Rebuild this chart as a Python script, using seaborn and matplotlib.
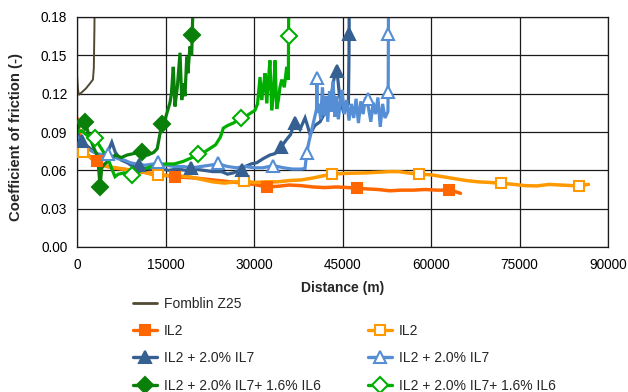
import matplotlib
matplotlib.use("Agg")
import matplotlib.pyplot as plt
from matplotlib.lines import Line2D
import seaborn as sns

# ---------------- data ----------------
fom_x = [0, 150, 300, 800, 1500, 2200, 2700, 2850, 2950, 3000]
fom_y = [0.135, 0.124, 0.119, 0.121, 0.124, 0.128, 0.131, 0.140, 0.170, 0.200]

il2a_x = [0, 300, 800, 1500, 2500, 3300, 4500, 6000, 7500, 9000, 10500, 12000, 13500, 15000,
          16600, 18000, 20000, 22000, 24000, 26000, 28000, 30000, 32150, 34000, 36000, 38000,
          40000, 42000, 44000, 46000, 47400, 49000, 51000, 53000, 55000, 57000, 59000, 61000,
          63000, 64000, 65000]
il2a_y = [0.101, 0.092, 0.082, 0.074, 0.069, 0.067, 0.064, 0.062, 0.061, 0.060, 0.059, 0.058,
          0.057, 0.056, 0.055, 0.0545, 0.054, 0.053, 0.052, 0.051, 0.050, 0.049, 0.047, 0.0475,
          0.0485, 0.048, 0.047, 0.0465, 0.047, 0.0465, 0.046, 0.0455, 0.045, 0.044, 0.0445,
          0.0445, 0.045, 0.0445, 0.0445, 0.0435, 0.042]
il2a_mx = [3340, 16600, 32150, 47400, 63000]
il2a_my = [0.067, 0.055, 0.047, 0.046, 0.0445]

il2b_x = [0, 500, 1070, 2000, 3000, 4000, 5000, 6500, 8000, 9500, 11000, 12500, 13700, 15000,
          17000, 19000, 21000, 23000, 25000, 27000, 28300, 30000, 32000, 34000, 36000, 38000,
          40000, 42000, 43200, 45000, 47000, 49000, 51000, 53000, 54500, 56000, 58000, 60000,
          62000, 64000, 66000, 68000, 70000, 72000, 74000, 76000, 78000, 80000, 82000, 84000,
          85000, 86700]
il2b_y = [0.082, 0.078, 0.0746, 0.071, 0.068, 0.065, 0.063, 0.062, 0.061, 0.060, 0.059, 0.057,
          0.056, 0.056, 0.0555, 0.055, 0.053, 0.051, 0.050, 0.051, 0.0517, 0.0505, 0.051, 0.051,
          0.052, 0.0525, 0.054, 0.056, 0.057, 0.0575, 0.0578, 0.058, 0.0585, 0.059, 0.059,
          0.058, 0.057, 0.0565, 0.055, 0.0535, 0.052, 0.051, 0.0505, 0.0499, 0.049, 0.048,
          0.0478, 0.049, 0.0485, 0.048, 0.048, 0.049]
il2b_mx = [1070, 13700, 28300, 43200, 58000, 71900, 85000]
il2b_my = [0.0746, 0.056, 0.0517, 0.057, 0.057, 0.0499, 0.048]

il7a_x = [0, 500, 1000, 2000, 3000, 4000, 5000, 5900, 6500, 7500, 8500, 9500, 11000, 12500,
          14000, 15500, 17000, 18500, 20000, 21500, 23000, 24500, 25500, 26500, 27500, 28500,
          29500, 30500, 31500, 32700, 33500, 34400, 34700, 35500, 36200, 36950, 37800, 38650,
          39000, 39500, 40300, 41200, 42000, 42900, 43400, 44000, 44500, 45100, 45600, 46000,
          46100, 46150]
il7a_y = [0.090, 0.085, 0.082, 0.078, 0.074, 0.071, 0.072, 0.082, 0.074, 0.068, 0.066, 0.063,
          0.062, 0.061, 0.062, 0.060, 0.061, 0.060, 0.061, 0.060, 0.059, 0.059, 0.057, 0.058,
          0.060, 0.063, 0.065, 0.066, 0.069, 0.072, 0.073, 0.076, 0.079, 0.084, 0.088, 0.099,
          0.092, 0.101, 0.096, 0.088, 0.095, 0.098, 0.105, 0.112, 0.128, 0.141, 0.118, 0.107,
          0.110, 0.112, 0.150, 0.200]
il7a_mx = [900, 10500, 19400, 27900, 34600, 36900, 44000, 46120]
il7a_my = [0.083, 0.064, 0.062, 0.060, 0.078, 0.097, 0.138, 0.167]

il7b_x = [0, 500, 1500, 2500, 3500, 4500, 5300, 6000, 7000, 8000, 9000, 10000, 11500, 13000,
          13800, 15000, 16500, 18000, 19500, 21000, 22500, 24000, 25500, 27000, 28500, 30000,
          31500, 33300, 35000, 36500, 38000, 38650, 38900, 39200, 39700, 40200, 40600, 40650,
          40700, 41000, 41300, 41600, 41900, 42200, 42500, 42800, 43100, 43400, 43700, 44000,
          44300, 44600, 44900, 45300, 45700, 46100, 46500, 46900, 47300, 47700, 48100, 48500,
          48900, 49400, 49800, 50200, 50600, 51000, 51400, 51800, 52200, 52700, 52750, 52800]
il7b_y = [0.087, 0.083, 0.078, 0.075, 0.073, 0.072, 0.073, 0.071, 0.069, 0.068, 0.066, 0.065,
          0.064, 0.065, 0.066, 0.064, 0.063, 0.063, 0.062, 0.063, 0.064, 0.065, 0.063, 0.062,
          0.063, 0.062, 0.062, 0.0637, 0.062, 0.061, 0.061, 0.0615, 0.072, 0.080, 0.090, 0.100,
          0.108, 0.134, 0.105, 0.112, 0.100, 0.125, 0.103, 0.118, 0.098, 0.122, 0.106, 0.130,
          0.102, 0.118, 0.100, 0.112, 0.123, 0.104, 0.115, 0.099, 0.112, 0.101, 0.116, 0.097,
          0.114, 0.104, 0.117, 0.109, 0.098, 0.113, 0.104, 0.117, 0.094, 0.112, 0.101, 0.106,
          0.130, 0.200]
il7b_mx = [5300, 13780, 23950, 33280, 38930, 40620, 49380, 52770, 52770]
il7b_my = [0.0728, 0.0663, 0.0655, 0.0637, 0.0733, 0.132, 0.116, 0.1216, 0.167]

il6a_x = [0, 500, 1360, 2000, 2800, 3400, 3700, 3900, 4200, 4700, 5500, 6500, 7500, 8500,
          9500, 10960, 12000, 13000, 13600, 14000, 14360, 15000, 15760, 16000, 16320, 16600,
          17000, 17460, 17750, 18100, 18300, 18600, 18800, 19150, 19440, 19720]
il6a_y = [0.092, 0.095, 0.098, 0.088, 0.078, 0.072, 0.060, 0.047, 0.062, 0.065, 0.068, 0.072,
          0.070, 0.072, 0.073, 0.0746, 0.072, 0.074, 0.077, 0.087, 0.096, 0.101, 0.113, 0.120,
          0.141, 0.110, 0.125, 0.152, 0.115, 0.128, 0.118, 0.149, 0.136, 0.157, 0.150, 0.200]
il6a_mx = [1360, 3900, 10960, 14360, 19440]
il6a_my = [0.098, 0.047, 0.0746, 0.0963, 0.166]

il6b_x = [0, 800, 1800, 3050, 4000, 4800, 5500, 6000, 6440, 7000, 8000, 9270, 10500, 12000,
          13500, 15000, 16500, 18000, 19500, 20560, 21500, 22500, 23500, 24300, 24800, 25500,
          26500, 27740, 28500, 29500, 30170, 30600, 31020, 31300, 31600, 31870, 32150, 32400,
          32700, 33000, 33300, 33560, 33850, 34130, 34400, 34700, 35140, 35540, 35820, 35900]
il6b_y = [0.090, 0.091, 0.087, 0.085, 0.078, 0.072, 0.066, 0.060, 0.055, 0.057, 0.058, 0.0564,
          0.059, 0.062, 0.064, 0.065, 0.065, 0.067, 0.070, 0.0726, 0.074, 0.077, 0.080, 0.086,
          0.093, 0.095, 0.097, 0.1008, 0.102, 0.105, 0.107, 0.112, 0.133, 0.115, 0.125, 0.136,
          0.1125, 0.128, 0.146, 0.107, 0.120, 0.146, 0.108, 0.115, 0.125, 0.131, 0.125, 0.141,
          0.131, 0.200]
il6b_mx = [3050, 9270, 20560, 27740, 35850]
il6b_my = [0.085, 0.0564, 0.0726, 0.1008, 0.1654]

x_ticks = [0, 15000, 30000, 45000, 60000, 75000, 90000]
y_ticks = [0.00, 0.03, 0.06, 0.09, 0.12, 0.15, 0.18]

labels = ["Fomblin Z25", "IL2", "IL2", "IL2 + 2.0% IL7", "IL2 + 2.0% IL7",
          "IL2 + 2.0% IL7+ 1.6% IL6", "IL2 + 2.0% IL7+ 1.6% IL6"]

# ---------------- style ----------------
sns.set_style("white")
plt.rcParams['font.family'] = ['Liberation Sans', 'DejaVu Sans']
FS_TICK = 9.8
FS_LEG = 10.0

C_FOM = '#514A32'
C_IL2A = '#FF6600'
C_IL2B = '#FF9900'
C_IL7A = '#376092'
C_IL7B = '#558ED5'
C_IL6A = '#0A800A'
C_IL6B = '#00AE00'

fig = plt.figure(figsize=(6.28, 3.92), dpi=100)
ax = fig.add_axes([77/628, 1-247/392, (608-77)/628, (247-17)/392])

LW = 2.3
series = [
    (fom_x, fom_y, None, None, C_FOM, None, True, 1.4),
    (il2a_x, il2a_y, il2a_mx, il2a_my, C_IL2A, 's', True, 2.5),
    (il2b_x, il2b_y, il2b_mx, il2b_my, C_IL2B, 's', False, 2.5),
    (il7a_x, il7a_y, il7a_mx, il7a_my, C_IL7A, '^', True, LW),
    (il7b_x, il7b_y, il7b_mx, il7b_my, C_IL7B, '^', False, LW),
    (il6a_x, il6a_y, il6a_mx, il6a_my, C_IL6A, 'D', True, LW),
    (il6b_x, il6b_y, il6b_mx, il6b_my, C_IL6B, 'D', False, LW),
]
MS = {'s': 7.2, '^': 8.0, 'D': 8.0}

handles = []
for (xs, ys, mx, my, c, mk, filled, lw) in series:
    sns.lineplot(x=xs, y=ys, ax=ax, color=c, lw=lw, sort=False, estimator=None,
                 solid_joinstyle='miter')
    if mk is not None:
        ax.plot(mx, my, linestyle='none', marker=mk, markersize=MS[mk],
                markerfacecolor=c if filled else 'white', markeredgecolor=c,
                markeredgewidth=1.5, zorder=3, clip_on=True)
    handles.append(Line2D([], [], color=c, lw=2.4 if mk else 2.0, marker=mk,
                          markersize=MS[mk] if mk else 0,
                          markerfacecolor=(c if filled else 'white') if mk else c,
                          markeredgecolor=c, markeredgewidth=1.5))
blank = Line2D([], [], lw=0, alpha=0)

ax.set_xlim(0, 90000)
ax.set_ylim(0, 0.18)
ax.set_xticks(x_ticks)
ax.set_yticks(y_ticks)
ax.set_xticklabels([str(v) for v in x_ticks])
ax.set_yticklabels([f"{v:.2f}" for v in y_ticks])
ax.tick_params(axis='both', length=0, labelsize=FS_TICK, colors='black')
ax.tick_params(axis='y', pad=7)
ax.tick_params(axis='x', pad=8)
ax.grid(True, color='#1a1a1a', lw=0.9)
ax.set_axisbelow(True)
for s in ax.spines.values():
    s.set_color('#1a1a1a')
    s.set_linewidth(0.9)
ax.set_xlabel("Distance (m)", fontsize=10.0, fontweight='bold')
ax.set_ylabel("Coefficient of friction (-)", fontsize=10.7, fontweight='bold')
ax.xaxis.set_label_coords(0.5, -0.146)
ax.yaxis.set_label_coords(-0.102, 0.48)

leg_kw = dict(frameon=False, fontsize=FS_LEG, handlelength=1.75, handletextpad=0.45,
              labelspacing=0.96, borderpad=0, borderaxespad=0, loc='upper left')
fig.legend([handles[0], handles[1], handles[3], handles[5]],
           [labels[0], labels[1], labels[3], labels[5]],
           bbox_to_anchor=(133/628, 1-296.5/392), **leg_kw)
fig.legend([blank, handles[2], handles[4], handles[6]],
           [" ", labels[2], labels[4], labels[6]],
           bbox_to_anchor=(368/628, 1-296.5/392), **leg_kw)

fig.savefig("out.png", dpi=100)
